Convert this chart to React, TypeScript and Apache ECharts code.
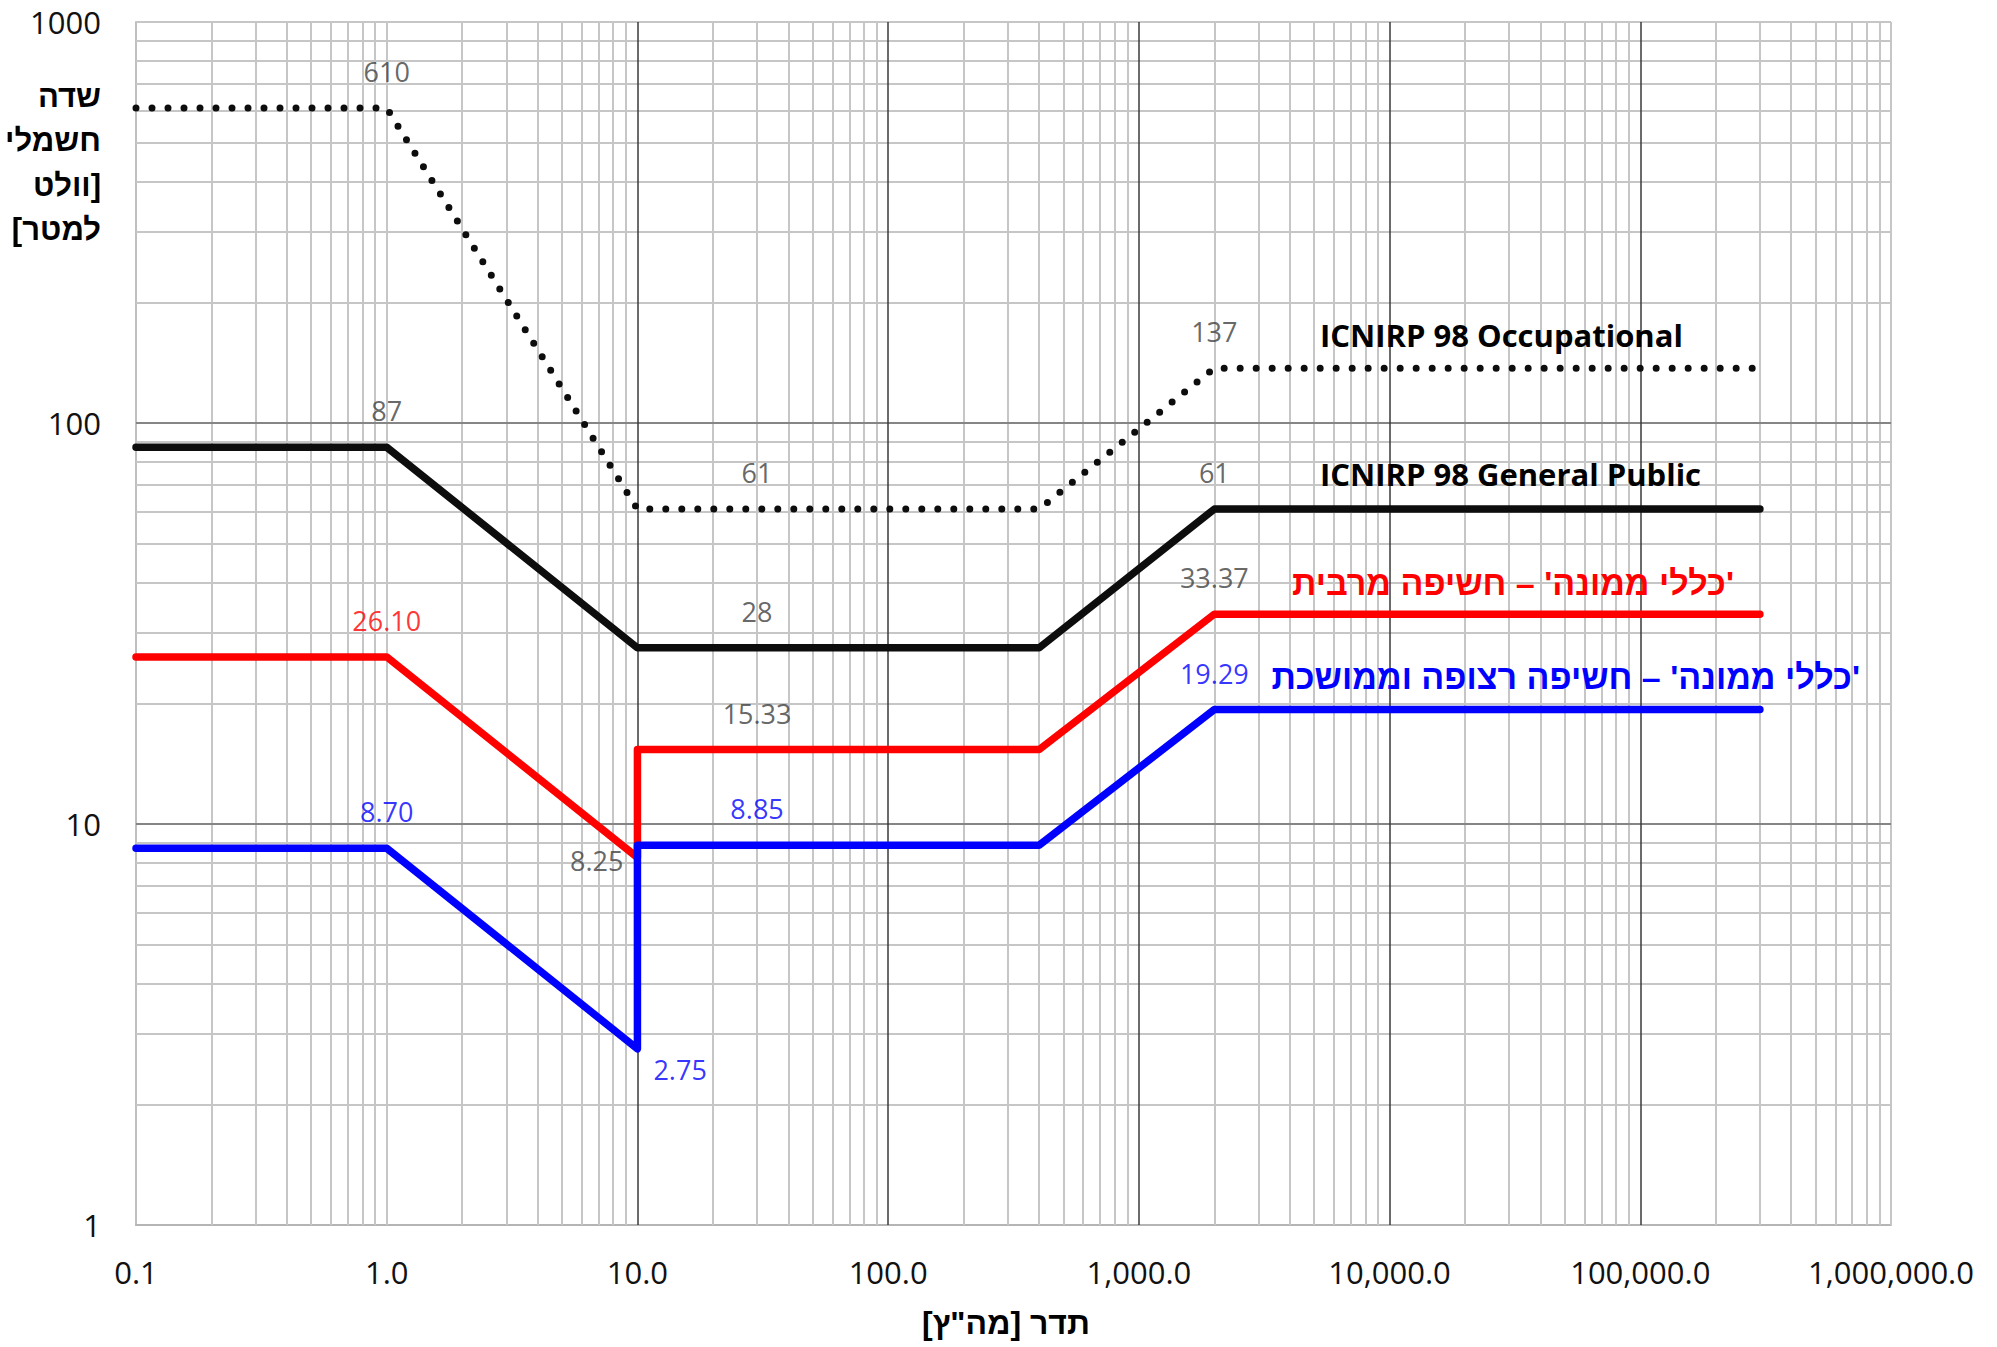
import React, { useEffect, useRef } from 'react';
import * as echarts from 'echarts';

// ---- data (frequency in Hz, field in V/m) ----
const occupationalFreq = [0.1, 1, 10, 400, 2000, 300000];
const occupationalField = [610, 610, 61, 61, 137, 137];

const publicFreq = [0.1, 1, 10, 400, 2000, 300000];
const publicField = [87, 87, 27.5, 27.5, 61, 61];

const peakFreq = [0.1, 1, 10, 10, 400, 2000, 300000];
const peakField = [26.1, 26.1, 8.25, 15.33, 15.33, 33.37, 33.37];

const continuousFreq = [0.1, 1, 10, 10, 400, 2000, 300000];
const continuousField = [8.7, 8.7, 2.75, 8.85, 8.85, 19.29, 19.29];

// data labels
const labelFreq = [1, 30, 2000, 1, 30, 2000, 1, 10, 30, 2000, 1, 10, 30, 2000];
const labelField = [610, 61, 137, 87, 27.5, 61, 26.1, 8.25, 15.33, 33.37, 8.7, 2.75, 8.85, 19.29];
const labelText = ['610', '61', '137', '87', '28', '61', '26.10', '8.25', '15.33', '33.37', '8.70', '2.75', '8.85', '19.29'];
const labelKind = ['g', 'g', 'g', 'g', 'g', 'g', 'r', 'g', 'g', 'g', 'b', 'b', 'b', 'b'];
const labelPlace = ['top', 'top', 'top', 'top', 'top', 'top', 'top', 'left', 'top', 'top', 'top', 'belowRight', 'top', 'top'];

const seriesNames = [
  'ICNIRP 98 Occupational',
  'ICNIRP 98 General Public',
  "\u200F'כללי ממונה' – חשיפה מרבית",
  "\u200F'כללי ממונה' – חשיפה רצופה וממושכת",
];

const yTitleLines = ['שדה', 'חשמלי', 'וולט]', '[למטר'];
const xTitle = 'תדר [מה"ץ]\u200F';

// grid-line positions (log paper)
const decadeStarts = [0.1, 1, 10, 100, 1000, 10000, 100000];
const yDecadeStarts = [1, 10, 100];
const majorX = [10, 100, 1000, 10000, 100000];
const majorY = [10, 100];

const BLACK = '#0d0d0d';
const RED = '#ff0000';
const BLUE = '#0000ff';
const GRAY_TXT = '#404040';
const NUM_FONT = "'Open Sans', 'Noto Sans', sans-serif";
const HEB_FONT = "'Liberation Sans', Arial, 'DejaVu Sans', sans-serif";

const pairs = (xs: number[], ys: number[]) => xs.map((x, i) => [x, ys[i]]);

const textEl = (
  text: string,
  x: number,
  y: number,
  align: string,
  fill: string,
  fontSize: number,
  fontFamily: string
) => ({
  type: 'text',
  x,
  y,
  z: 10,
  silent: true,
  style: {
    text,
    fill,
    fontSize,
    fontWeight: 'bold',
    fontFamily,
    align,
    verticalAlign: 'middle',
    textAlign: align,
    textVerticalAlign: 'middle',
  },
});

export default function App() {
  const ref = useRef<HTMLDivElement>(null);

  useEffect(() => {
    if (!ref.current) return;
    const chart = echarts.init(ref.current, undefined, { renderer: 'svg' });

    const minorLine = { color: '#c6c6c6', width: 2, type: 'solid' };
    const gridItems: any[] = [];
    decadeStarts.forEach((d) => {
      for (let k = 2; k <= 9; k++) gridItems.push({ xAxis: k * d, lineStyle: minorLine });
    });
    gridItems.push({ xAxis: 1, lineStyle: minorLine });
    gridItems.push({ xAxis: 1000000, lineStyle: minorLine });
    yDecadeStarts.forEach((d) => {
      for (let k = 2; k <= 9; k++) gridItems.push({ yAxis: k * d, lineStyle: minorLine });
    });
    gridItems.push({ yAxis: 1000, lineStyle: minorLine });
    majorY.forEach((v) =>
      gridItems.push({ yAxis: v, lineStyle: { color: '#858585', width: 2, type: 'solid' } })
    );
    majorX.forEach((v) =>
      gridItems.push({ xAxis: v, lineStyle: { color: '#3a3a3a', width: 1.5, type: 'solid' } })
    );

    const colorOf = (k: string) => (k === 'r' ? RED : k === 'b' ? BLUE : GRAY_TXT);

    const labelData = labelFreq.map((f, i) => {
      const place = labelPlace[i];
      const lbl: any = {
        show: true,
        formatter: labelText[i],
        color: colorOf(labelKind[i]),
        fontFamily: NUM_FONT,
        fontSize: 27,
      };
      if (place === 'top') {
        lbl.position = 'top';
        lbl.distance = 22;
      } else if (place === 'left') {
        lbl.position = 'left';
        lbl.distance = 13;
        lbl.offset = [0, 3];
      } else {
        lbl.position = 'right';
        lbl.distance = 15;
        lbl.offset = [0, 21];
      }
      return { value: [f, labelField[i]], label: lbl };
    });

    const lineBase = { cap: 'round', join: 'round', width: 7.5 };

    const option: any = {
      animation: false,
      backgroundColor: '#ffffff',
      grid: { left: 136, right: 106, top: 22, bottom: 122, containLabel: false, outerBoundsMode: 'none' },
      xAxis: {
        type: 'log',
        logBase: 10,
        min: 0.1,
        max: 1000000,
        axisLine: { show: true, onZero: false, lineStyle: { color: '#b5b5b5', width: 2 } },
        axisTick: { show: false },
        splitLine: { show: false },
        axisLabel: {
          margin: 31,
          fontSize: 31,
          color: '#111111',
          fontFamily: NUM_FONT,
          formatter: (v: number) =>
            Number(v).toLocaleString('en-US', { minimumFractionDigits: 1, maximumFractionDigits: 1 }),
        },
      },
      yAxis: {
        type: 'log',
        logBase: 10,
        min: 1,
        max: 1000,
        axisLine: { show: true, onZero: false, lineStyle: { color: '#bfbfbf', width: 2 } },
        axisTick: { show: false },
        splitLine: { show: false },
        axisLabel: {
          margin: 35,
          fontSize: 31,
          color: '#111111',
          fontFamily: NUM_FONT,
          formatter: (v: number) => String(Math.round(v)),
        },
      },
      series: [
        {
          type: 'line',
          name: 'grid',
          data: [],
          silent: true,
          z: 1,
          markLine: {
            silent: true,
            z: 1,
            symbol: ['none', 'none'],
            label: { show: false },
            emphasis: { disabled: true },
            animation: false,
            data: gridItems,
          },
        },
        {
          type: 'line',
          name: seriesNames[0],
          data: pairs(occupationalFreq, occupationalField),
          symbol: 'none',
          silent: true,
          z: 3,
          lineStyle: { ...lineBase, width: 7, color: BLACK, type: [0, 16] },
        },
        {
          type: 'line',
          name: seriesNames[1],
          data: pairs(publicFreq, publicField),
          symbol: 'none',
          silent: true,
          z: 3,
          lineStyle: { ...lineBase, color: BLACK },
        },
        {
          type: 'line',
          name: seriesNames[2],
          data: pairs(peakFreq, peakField),
          symbol: 'none',
          silent: true,
          z: 3,
          lineStyle: { ...lineBase, color: RED },
        },
        {
          type: 'line',
          name: seriesNames[3],
          data: pairs(continuousFreq, continuousField),
          symbol: 'none',
          silent: true,
          z: 3,
          lineStyle: { ...lineBase, color: BLUE },
        },
        {
          type: 'scatter',
          name: 'labels',
          data: labelData,
          symbolSize: 2,
          silent: true,
          z: 4,
          itemStyle: { color: 'rgba(0,0,0,0)' },
        },
      ],
      graphic: [
        ...yTitleLines.map((t, i) => textEl(t, 101, 96 + i * 44.5, 'right', '#000', 31, HEB_FONT)),
        textEl(xTitle, 1006, 1323, 'center', '#000', 32, HEB_FONT),
        textEl(seriesNames[0], 1320, 335, 'left', '#000', 31, NUM_FONT),
        textEl(seriesNames[1], 1320, 474, 'left', '#000', 31, NUM_FONT),
        textEl(seriesNames[2], 1734, 583, 'right', RED, 34, HEB_FONT),
        textEl(seriesNames[3], 1860, 677, 'right', BLUE, 34, HEB_FONT),
      ],
    };

    chart.setOption(option);
    return () => chart.dispose();
  }, []);

  return (
    <div
      ref={ref}
      style={{ position: 'fixed', left: 0, top: 0, width: 1997, height: 1347, background: '#fff' }}
    />
  );
}
